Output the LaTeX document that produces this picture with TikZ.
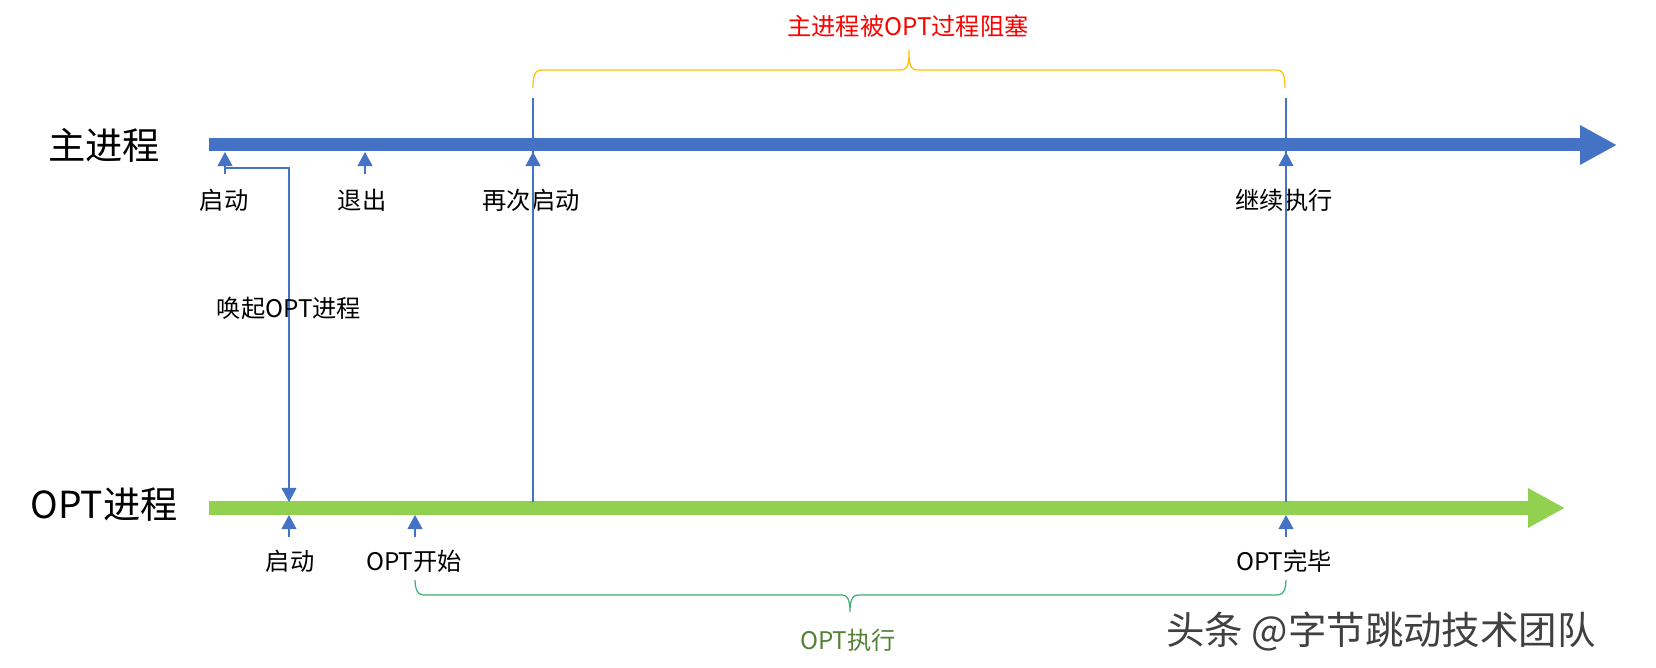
\documentclass[tikz,border=0pt]{standalone}
\usepackage{fontspec}
\newfontfamily\cjk{Noto Sans CJK SC}
\usetikzlibrary{arrows.meta}
\definecolor{mainblue}{RGB}{68,114,196}
\definecolor{optgreen}{RGB}{146,208,80}
\definecolor{braceyellow}{RGB}{255,192,0}
\definecolor{braceteal}{RGB}{60,175,120}
\definecolor{textgreen}{RGB}{84,130,53}
\definecolor{textred}{RGB}{255,0,0}
\tikzset{
	lbl/.style={font=\cjk\fontsize{13.8}{16}\selectfont, inner sep=0pt},
	procname/.style={font=\cjk\fontsize{21.2}{25}\selectfont, inner sep=0pt},
	timeline/.style={line width=7.4pt, -{Triangle[length=21pt,width=21pt]}},
	tickarrow/.style={mainblue, line width=0.6pt, -{Triangle[width=8.5pt,length=8pt]}},
	linkline/.style={mainblue, line width=0.6pt},
	bracket/.style={line width=0.7pt}
}
\begin{document}
\begin{tikzpicture}[x=0.02cm,y=-0.02cm]
			\useasboundingbox (0,0) rectangle (1656,668);
			% process names
			\node[procname] (mainname) at (104,145) {主进程};
			\node[procname] (optname) at (104,505) {OPT进程};
			% the two time lines
			\coordinate (mainL) at (209,145);
			\coordinate (mainR) at (1617,145);
			\coordinate (optL) at (209,508);
			\coordinate (optR) at (1565,508);
			\draw[timeline, mainblue] (mainL) -- (mainR);
			\draw[timeline, optgreen] (optL) -- (optR);
			% ticks under the main line
			\foreach \x/\n in {225/mstart,365/mexit,533/mrestart,1286/mgoon}{
				\coordinate (\n) at (\x,152);
				\coordinate (\n-foot) at (\x,174);
				\draw[tickarrow] (\n-foot) -- (\n);
			}
			% ticks under the OPT line
			\foreach \x/\n in {289/ostart,415/obegin,1286/odone}{
				\coordinate (\n) at (\x,515);
				\coordinate (\n-foot) at (\x,537);
				\draw[tickarrow] (\n-foot) -- (\n);
			}
			\node[lbl] (lstart) at (224,200) {启动};
			\node[lbl] (lexit) at (362,200) {退出};
			\node[lbl] (lrestart) at (531,200) {再次启动};
			\node[lbl] (lgoon) at (1284,200) {继续执行};
			\node[lbl] (lostart) at (290,561) {启动};
			\node[lbl] (lobegin) at (414,561) {OPT开始};
			\node[lbl] (lodone) at (1284,561) {OPT完毕};
			% wake up the OPT process
			\coordinate (wakefrom) at (225,168);
			\coordinate (waketo) at (289,502);
			\draw[tickarrow] (wakefrom) -| (waketo);
			\node[lbl] (lwake) at (289,308) {唤起OPT进程};
			% vertical lines through both time lines
			\coordinate (restarttop) at (533,98);
			\coordinate (restartbot) at (533,502);
			\coordinate (goontop) at (1286,98);
			\coordinate (goonbot) at (1286,502);
			\draw[linkline] (restarttop) -- (restartbot);
			\draw[linkline] (goontop) -- (goonbot);
			% blocked span
			\draw[bracket, braceyellow] (533,88) to[out=90,in=180] (541,70) -- (901,70)
				to[out=0,in=-90] (909,50) to[out=-90,in=180] (917,70) -- (1277,70)
				to[out=0,in=90] (1285,88);
			\node[lbl, text=textred] (lblocked) at (908,26) {主进程被OPT过程阻塞};
			% OPT run span
			\draw[bracket, braceteal] (415,580) to[out=-90,in=180] (423,595) -- (842,595)
				to[out=0,in=90] (850,612) to[out=90,in=180] (858,595) -- (1278,595)
				to[out=0,in=-90] (1286,580);
			\node[lbl, text=textgreen] (lrun) at (848,640) {OPT执行};
	%		watermark
			\node[font=\cjk\fontsize{21.9}{26}\selectfont, inner sep=0pt, text=black!75] (mark) at (1381,632) {头条 @字节跳动技术团队};
		\end{tikzpicture}
\end{document}
